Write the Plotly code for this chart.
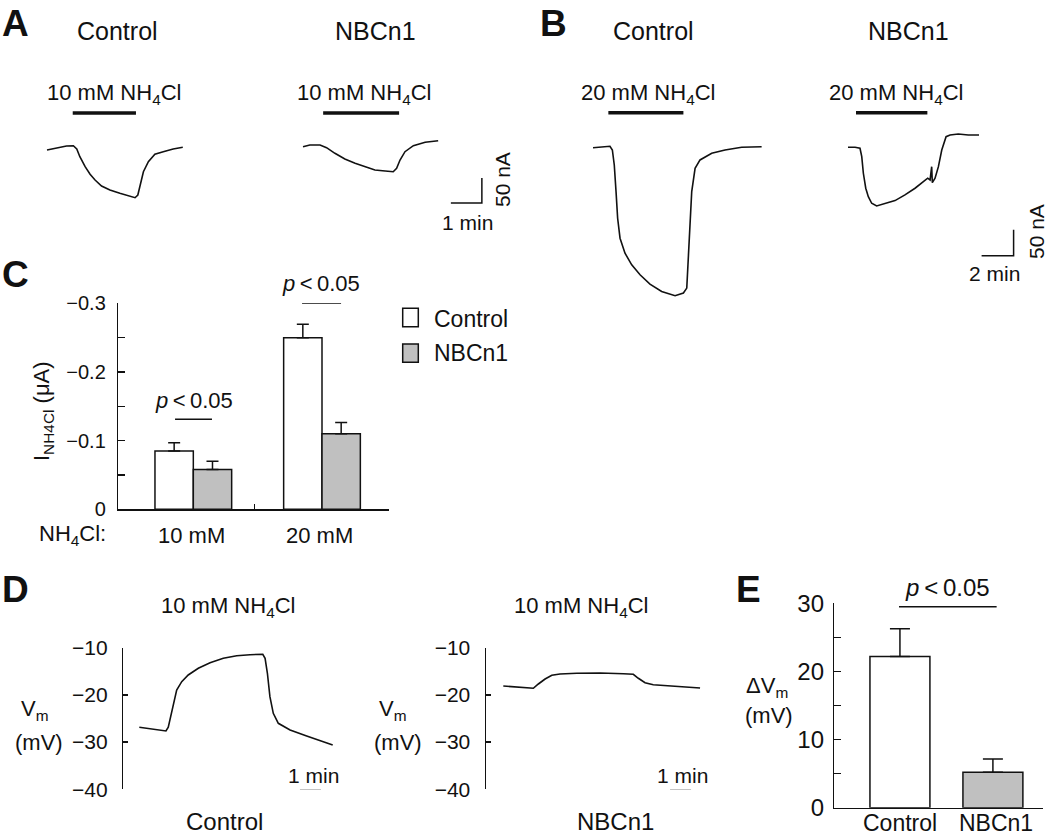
import plotly.graph_objects as go

W, H = 1050, 837

# ---------------- data ----------------
groups = ["Control", "NBCn1"]
conc_labels = ["10 mM", "20 mM"]

# A: 10 mM NH4Cl currents (time in min, current in nA)
a_ctrl_t = [0.0, 0.31, 0.63, 0.85, 0.96, 1.06, 1.23, 1.39, 1.55, 1.76, 2.03, 2.35, 2.62, 2.84, 2.93, 3.00, 3.11, 3.27, 3.48, 3.75, 4.07, 4.38]
a_ctrl_i = [-6, -1.4, 2, 2.6, -4, -19.4, -39.4, -54.6, -66, -78, -86, -92.6, -97.4, -101.4, -96, -76, -49.4, -29.4, -14.6, -9.4, -4, -0.6]
a_nbc_t = [0.0, 0.22, 0.55, 0.76, 1.03, 1.35, 1.68, 2.0, 2.32, 2.65, 2.91, 3.02, 3.13, 3.29, 3.56, 3.94, 4.36]
a_nbc_i = [0.6, 4, 4, -1.4, -12.6, -24, -32.6, -39.4, -46, -48, -49.4, -42.6, -26, -9.4, 2.6, 9.4, 12.6]
a_ctrl_drug = [0.83, 2.87]
a_nbc_drug = [0.65, 3.10]

# B: 20 mM NH4Cl currents (time in min, current in nA)
b_ctrl_t = [0.0, 0.54, 1.06, 1.21, 1.33, 1.44, 1.54, 1.69, 2.0, 2.42, 2.94, 3.56, 4.29, 5.13, 5.65, 5.86, 5.96, 6.06, 6.17, 6.38, 6.69, 7.42, 8.25, 9.29, 10.54]
b_ctrl_i = [-1.3, 0, 1.3, -5.8, -34.6, -85.8, -137, -175.4, -204.2, -226.6, -245.8, -263.6, -277.8, -286, -280.9, -271.3, -213.7, -149.8, -85.8, -40.9, -24.9, -12.1, -5.8, -0.6, 0.6]
b_nbc_t = [0.0, 0.44, 0.75, 0.86, 0.96, 1.11, 1.27, 1.48, 1.79, 2.31, 2.94, 3.56, 4.19, 4.71, 4.98, 5.13, 5.23, 5.27, 5.44, 5.65, 5.86, 6.13, 6.38, 6.89, 7.52, 8.19]
b_nbc_i = [-0.6, -0.6, -2.5, -18.6, -50.5, -79.3, -95.4, -108.2, -113.4, -109.4, -103.1, -92.2, -79.3, -66.6, -60, -63.4, -37.8, -68.5, -60, -37.8, -5.8, 19.8, 23, 24.9, 23, 23]
b_ctrl_drug = [0.96, 5.65]
b_nbc_drug = [0.50, 4.96]

# C: NH4Cl-induced current (uA), mean and SEM
c_ctrl = [-0.085, -0.250]
c_ctrl_err = [0.012, 0.0195]
c_nbc = [-0.058, -0.110]
c_nbc_err = [0.012, 0.0164]
c_ticks = [0, -0.1, -0.2, -0.3]
c_tick_labels = ["0", "\u22120.1", "\u22120.2", "\u22120.3"]
c_minor = [-0.05, -0.15, -0.25]

# D: membrane potential (time in min, Vm in mV)
d_ctrl_t = [0.0, 0.51, 0.99, 1.27, 1.38, 1.50, 1.62, 1.78, 2.02, 2.33, 2.81, 3.37, 4.0, 4.64, 5.27, 5.88, 5.99, 6.10, 6.22, 6.38, 6.62, 7.18, 7.97, 8.76, 9.21]
d_ctrl_v = [-26.86, -27.16, -27.44, -27.65, -26.86, -24.62, -21.78, -18.96, -17.2, -15.78, -14.36, -13.18, -12.25, -11.69, -11.48, -11.4, -12.25, -15.42, -20.38, -23.9, -26.02, -27.44, -28.71, -29.92, -30.61]
d_nbc_t = [0.0, 0.64, 1.11, 1.43, 1.67, 1.99, 2.31, 2.70, 3.50, 4.61, 5.72, 6.19, 6.43, 6.75, 7.14, 7.78, 8.56, 9.37]
d_nbc_v = [-18.11, -18.26, -18.47, -18.6, -17.69, -16.63, -15.85, -15.57, -15.42, -15.36, -15.51, -15.64, -16.48, -17.42, -17.84, -18.05, -18.26, -18.54]
d_ctrl_drug = [1.30, 6.07]
d_nbc_drug = [1.43, 6.11]
d_ticks = [-10, -20, -30, -40]
d_tick_labels = ["\u221210", "\u221220", "\u221230", "\u221240"]

# E: depolarization (mV)
e_dvm = [22.2, 5.2]
e_err = [4.05, 1.95]
e_ticks = [0, 10, 20, 30]
e_minor = [5, 15, 25]

# ---------------- styling ----------------
BLACK = "#111111"
GRAY = "#c0c0c0"
FONT = "Liberation Sans, Arial, sans-serif"


def xdom(x0, x1):
    return [x0 / W, x1 / W]


def ydom(top, bottom):
    return [1 - bottom / H, 1 - top / H]


def px(x):
    return x / W


def py(y):
    return 1 - y / H


fig = go.Figure()
axes = {}
hidden = dict(visible=False, showgrid=False, zeroline=False, fixedrange=True)


def ids(n):
    s = "" if n == 1 else str(n)
    return "x" + s, "y" + s, "xaxis" + s, "yaxis" + s


def trace_panel(n, dx0, dx1, top, bottom, ox, oy, sx, sy):
    xa, ya, xk, yk = ids(n)
    axes[xk] = dict(hidden, domain=xdom(dx0, dx1), range=[(dx0 - ox) / sx, (dx1 - ox) / sx], anchor=ya)
    axes[yk] = dict(hidden, domain=ydom(top, bottom), range=[(oy - bottom) / sy, (oy - top) / sy], anchor=xa)
    return xa, ya


def add_line(x, y, xa, ya, width=1.6):
    fig.add_trace(go.Scatter(x=x, y=y, xaxis=xa, yaxis=ya, mode="lines",
                             line=dict(color=BLACK, width=width), cliponaxis=False,
                             showlegend=False, hoverinfo="skip"))


# ----- A -----
A_SX, A_SY = 31.0, 0.5
xa1, ya1 = trace_panel(1, 40, 290, 100, 215, 47, 147, A_SX, A_SY)
xa2, ya2 = trace_panel(2, 295, 520, 100, 215, 303, 147, A_SX, A_SY)
add_line(a_ctrl_t, a_ctrl_i, xa1, ya1)
add_line(a_nbc_t, a_nbc_i, xa2, ya2)
add_line(a_ctrl_drug, [68, 68], xa1, ya1, 3.5)
add_line(a_nbc_drug, [68, 68], xa2, ya2, 3.5)
add_line([4.77, 5.77, 5.77], [-112, -112, -62], xa2, ya2, 1.5)

# ----- B -----
B_SX, B_SY = 16.0, 0.52
xa3, ya3 = trace_panel(3, 580, 830, 100, 305, 593, 147, B_SX, B_SY)
xa4, ya4 = trace_panel(4, 835, 1050, 100, 305, 848, 147, B_SX, B_SY)
add_line(b_ctrl_t, b_ctrl_i, xa3, ya3)
add_line(b_nbc_t, b_nbc_i, xa4, ya4)
add_line(b_ctrl_drug, [66, 66], xa3, ya3, 3.5)
add_line(b_nbc_drug, [66, 66], xa4, ya4, 3.5)
add_line([8.35, 10.35, 10.35], [-209.3, -209.3, -159.3], xa4, ya4, 1.5)

# ----- C -----
axes["xaxis5"] = dict(domain=xdom(118.3, 389.3), range=[-0.583, 1.523], type="linear",
                      showline=True, linecolor=BLACK, linewidth=1.5, ticks="inside",
                      tickvals=[0.474, 1.523], ticklen=5, tickwidth=1.5, tickcolor=BLACK,
                      showticklabels=False, showgrid=False, zeroline=False, anchor="y5", fixedrange=True)
axes["yaxis5"] = dict(domain=ydom(303.3, 509.3), range=[0, -0.3],
                      showline=True, linecolor=BLACK, linewidth=1.5, ticks="inside",
                      tickvals=c_ticks, ticktext=c_tick_labels,
                      ticklen=7, tickwidth=1.5, tickcolor=BLACK, ticklabelstandoff=7,
                      minor=dict(tickvals=c_minor, ticks="inside", ticklen=7, tickwidth=1.5,
                                 tickcolor=BLACK, showgrid=False),
                      tickfont=dict(size=20, color=BLACK, family=FONT),
                      showgrid=False, zeroline=False, anchor="x5", fixedrange=True)
fig.add_trace(go.Bar(x=[0, 1], y=c_ctrl, name=groups[0], xaxis="x5", yaxis="y5",
                     marker=dict(color="white", line=dict(color=BLACK, width=1.5)),
                     error_y=dict(type="data", symmetric=False, array=[0, 0], arrayminus=c_ctrl_err,
                                  color=BLACK, thickness=1.5, width=6),
                     showlegend=False, hoverinfo="skip"))
fig.add_trace(go.Bar(x=[0, 1], y=c_nbc, name=groups[1], xaxis="x5", yaxis="y5",
                     marker=dict(color=GRAY, line=dict(color=BLACK, width=1.5)),
                     error_y=dict(type="data", symmetric=False, array=[0, 0], arrayminus=c_nbc_err,
                                  color=BLACK, thickness=1.5, width=6),
                     showlegend=False, hoverinfo="skip"))
add_line([-0.142, 0.145], [-0.131, -0.131], "x5", "y5", 1.5)
add_line([0.845, 1.148], [-0.300, -0.300], "x5", "y5", 1.5)

# ----- D -----
D_SX = 21.0
for n, x0, x1, ox in [(6, 123.3, 350, 139.3), (7, 486, 715, 503.3)]:
    xa, ya, xk, yk = ids(n)
    axes[xk] = dict(hidden, domain=xdom(x0, x1), range=[(x0 - ox) / D_SX, (x1 - ox) / D_SX], anchor=ya)
    axes[yk] = dict(domain=ydom(647.7, 789.3), range=[-40, -10],
                    showline=True, linecolor=BLACK, linewidth=1.5, ticks="inside",
                    tickvals=d_ticks, ticktext=d_tick_labels,
                    ticklen=5, tickwidth=1.5, tickcolor=BLACK, ticklabelstandoff=10,
                    tickfont=dict(size=21, color=BLACK, family=FONT),
                    showgrid=False, zeroline=False, anchor=xa, fixedrange=True)
add_line(d_ctrl_t, d_ctrl_v, "x6", "y6")
add_line(d_nbc_t, d_nbc_v, "x7", "y7")
add_line(d_ctrl_drug, [-6.1, -6.1], "x6", "y6", 3.5)
add_line(d_nbc_drug, [-6.1, -6.1], "x7", "y7", 3.5)
add_line([7.65, 8.65], [-40.1, -40.1], "x6", "y6", 1.5)
add_line([7.94, 8.94], [-40.1, -40.1], "x7", "y7", 1.5)

# ----- E -----
axes["xaxis8"] = dict(domain=xdom(834.3, 1043.3), range=[-0.706, 1.542], type="linear",
                      showline=True, linecolor=BLACK, linewidth=1.5, ticks="inside",
                      tickvals=[1.542], ticklen=6, tickwidth=1.5, tickcolor=BLACK,
                      showticklabels=False, showgrid=False, zeroline=False, anchor="y8", fixedrange=True)
axes["yaxis8"] = dict(domain=ydom(603.3, 807.7), range=[0, 30],
                      showline=True, linecolor=BLACK, linewidth=1.5, ticks="inside",
                      tickvals=e_ticks, ticktext=[str(v) for v in e_ticks],
                      ticklen=7, tickwidth=1.5, tickcolor=BLACK, ticklabelstandoff=4,
                      minor=dict(tickvals=e_minor, ticks="inside", ticklen=7, tickwidth=1.5,
                                 tickcolor=BLACK, showgrid=False),
                      tickfont=dict(size=24, color=BLACK, family=FONT),
                      showgrid=False, zeroline=False, anchor="x8", fixedrange=True)
fig.add_trace(go.Bar(x=[0, 1], y=e_dvm, xaxis="x8", yaxis="y8", width=0.645,
                     marker=dict(color=["white", GRAY], line=dict(color=BLACK, width=1.5)),
                     error_y=dict(type="data", symmetric=False, array=e_err, arrayminus=[0, 0],
                                  color=BLACK, thickness=1.5, width=10),
                     showlegend=False, hoverinfo="skip"))
add_line([-0.01, 1.04], [29.5, 29.5], "x8", "y8", 1.5)

# ---------------- text ----------------
annotations = []


def ann(text, x, y, size, angle=0, xanchor="center", pad=1):
    annotations.append(dict(text=text, x=px(x), y=py(y), xref="paper", yref="paper",
                            xanchor=xanchor, yanchor="middle", showarrow=False, textangle=angle,
                            borderpad=pad, font=dict(size=size, color=BLACK, family=FONT)))


for letter, x, y in [("A", 15, 23), ("B", 553, 23), ("C", 15, 274), ("D", 15, 589), ("E", 748, 589)]:
    ann("<b>" + letter + "</b>", x, y, 37, pad=0)

# headers
ann(groups[0], 117.5, 31, 25)
ann(groups[1], 375, 31, 25)
ann(groups[0], 653, 31, 25)
ann(groups[1], 908, 31, 25)

nh10 = "10 mM NH<sub>4</sub>Cl"
nh20 = "20 mM NH<sub>4</sub>Cl"
ann(nh10, 113.5, 94, 22)
ann(nh10, 363.5, 94, 22)
ann(nh20, 648, 94, 22)
ann(nh20, 896, 94, 22)
ann(nh10, 228, 607, 22)
ann(nh10, 581, 607, 22)

# scale bar labels
ann("1 min", 467, 222, 21)
ann("50 nA", 502, 180, 21, angle=-90)
ann("2 min", 994, 273, 21)
ann("50 nA", 1036, 232, 21, angle=-90)
ann("1 min", 313, 775, 21)
ann("1 min", 682.5, 775, 21)

# C labels
ann("I<sub>NH4Cl</sub> (\u03bcA)", 43, 411, 22, angle=-90)
ann("NH<sub>4</sub>Cl:", 108.3, 535, 22, xanchor="right")
ann(conc_labels[0], 191, 535, 22)
ann(conc_labels[1], 319, 535, 22)
ptxt = "<i>p</i>\u2009&lt;\u20090.05"
ann(ptxt, 194, 400, 22)
ann(ptxt, 321, 283, 22)
ann(groups[0], 431.7, 319, 23, xanchor="left")
ann(groups[1], 431.7, 353, 23, xanchor="left")

# D labels
ann("V<sub>m</sub>", 35, 710, 22)
ann("(mV)", 38.5, 742, 22)
ann("V<sub>m</sub>", 393, 710, 22)
ann("(mV)", 397.5, 742, 22)
ann(groups[0], 224, 821, 24)
ann(groups[1], 615, 821, 24)

# E labels
ann("\u0394V<sub>m</sub>", 767, 687, 22)
ann("(mV)", 768.5, 715, 22)
ann(ptxt, 948, 587, 24)
ann(groups[0], 899.7, 823, 23)
ann(groups[1], 995.8, 823, 23)

# legend swatches for panel C
shapes = [
    dict(type="rect", xref="paper", yref="paper", x0=px(402.7), x1=px(418.3), y0=py(326.7), y1=py(308.3),
         fillcolor="white", line=dict(color=BLACK, width=1.5)),
    dict(type="rect", xref="paper", yref="paper", x0=px(402.7), x1=px(418.3), y0=py(362.3), y1=py(344),
         fillcolor=GRAY, line=dict(color=BLACK, width=1.5)),
]

fig.update_layout(
    width=W, height=H, margin=dict(l=0, r=0, t=0, b=0, autoexpand=False),
    autosize=False,
    paper_bgcolor="white", plot_bgcolor="rgba(0,0,0,0)",
    font=dict(family=FONT, color=BLACK),
    barmode="group", bargap=0.404, bargroupgap=0,
    showlegend=False, annotations=annotations, shapes=shapes,
    **axes,
)

fig.write_html(
    "out.html",
    config={"displayModeBar": False, "staticPlot": True},
    post_script=(
        "document.body.style.margin='0';"
        "var d=document.getElementById('{plot_id}');"
        "d.style.position='absolute';d.style.left='0px';d.style.top='0px';"
    ),
)
